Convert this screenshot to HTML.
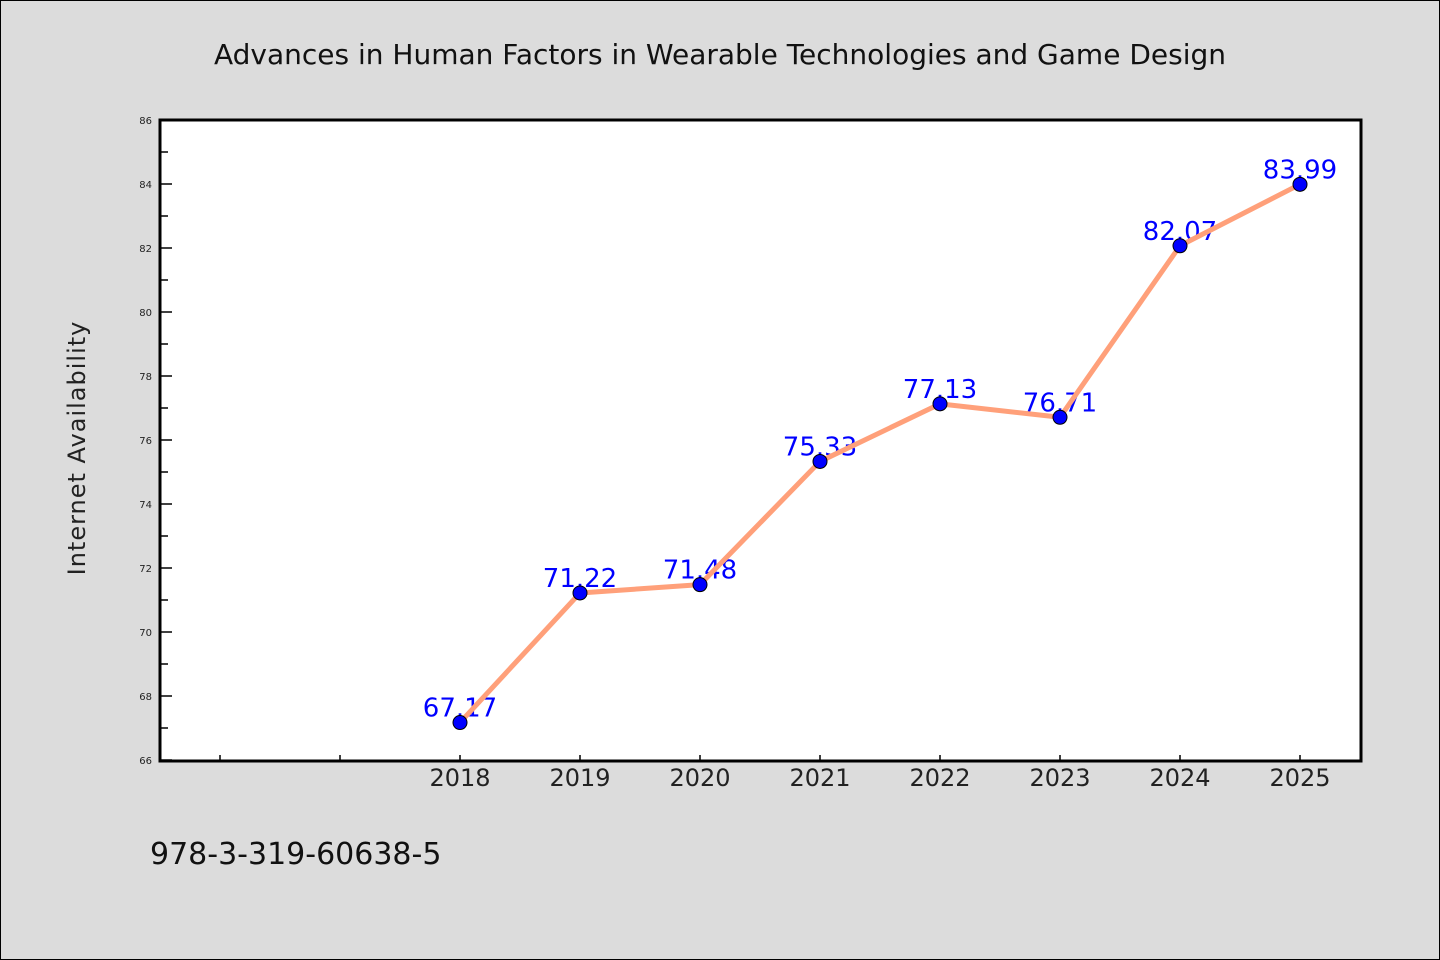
<!DOCTYPE html>
<html><head><meta charset="utf-8"><style>
body{margin:0;background:#dcdcdc}
svg{display:block}
text{font-family:"DejaVu Sans","Liberation Sans",sans-serif}
</style></head><body>
<svg id="chart" width="1440" height="960">
<rect x="0.5" y="0.5" width="1439" height="959" fill="#dcdcdc" stroke="#000"/>
<text x="720" y="64" text-anchor="middle" font-size="28" font-family="'DejaVu Sans Mono','Liberation Mono',monospace" fill="#111">Advances in Human Factors in Wearable Technologies and Game Design</text>
<rect x="160" y="120" width="1201" height="641" fill="#fff"/>
<g id="yaxis"></g><g id="xaxis"></g><g id="labels"></g><g id="series"></g>
<rect x="160" y="120" width="1201" height="641" fill="none" stroke="#000" stroke-width="3"/>
<text transform="translate(85,448) rotate(-90)" text-anchor="middle" font-size="24" font-family="'DejaVu Sans Mono','Liberation Mono',monospace" fill="#222" letter-spacing="1">Internet Availability</text>
<text x="150" y="864" font-size="30" font-family="'DejaVu Sans Mono','Liberation Mono',monospace" fill="#111">978-3-319-60638-5</text>
</svg>
<script>
const categories=["","","2018","2019","2020","2021","2022","2023","2024","2025"];
const values=[null,null,67.17,71.22,71.48,75.33,77.13,76.71,82.07,83.99];
const yTicks=[66,68,70,72,74,76,78,80,82,84,86];
const NS="http://www.w3.org/2000/svg";
const L=160,R=1360,T=120,B=760,yMin=66,yMax=86;
const xs=i=>L+(i+0.5)*(R-L)/categories.length;
const ys=v=>B-(v-yMin)/(yMax-yMin)*(B-T);
function mk(tag,attrs,parent,txt){const e=document.createElementNS(NS,tag);for(const k in attrs)e.setAttribute(k,attrs[k]);if(txt!=null)e.textContent=txt;parent.appendChild(e);return e;}
const ya=document.getElementById('yaxis'),xa=document.getElementById('xaxis'),lb=document.getElementById('labels'),se=document.getElementById('series');
yTicks.forEach((t,i)=>{
  const y=ys(t);
  const tk=mk('line',{x1:L,x2:L+12,y1:y,y2:y,stroke:'#000','stroke-width':1.5},ya);
  
  
  const tx=mk('text',{x:152,y:y+4,'text-anchor':'end','font-size':10,fill:'#222'},ya,t);
  
  
  if(i<yTicks.length-1){const ym=ys(t+1);
    const mn=mk('line',{x1:L,x2:L+8,y1:ym,y2:ym,stroke:'#000','stroke-width':1.5},ya);
    
    }
});
categories.forEach((c,i)=>{
  const x=xs(i);
  const tk=mk('line',{x1:x,x2:x,y1:B,y2:B-5,stroke:'#000','stroke-width':1.5},xa);
  
  
  if(c){const tx=mk('text',{x:x,y:786,'text-anchor':'middle','font-size':24,fill:'#222'},xa,c);
    
    }
});
let pts=[];
values.forEach((v,i)=>{if(v==null)return;pts.push(xs(i)+','+ys(v));
  const t=mk('text',{x:xs(i),y:ys(v)-6,'text-anchor':'middle','font-size':26,fill:'#0000ff'},lb,v.toFixed(2));
  
  });
const pl=mk('polyline',{points:pts.join(' '),fill:'none',stroke:'#ffa07a','stroke-width':5,'stroke-linejoin':'round'},se);


values.forEach((v,i)=>{if(v==null)return;
  const c=mk('circle',{cx:xs(i),cy:ys(v),r:7,fill:'#0000ff',stroke:'#000','stroke-width':1},se);
  
  });
</script>
</body></html>
